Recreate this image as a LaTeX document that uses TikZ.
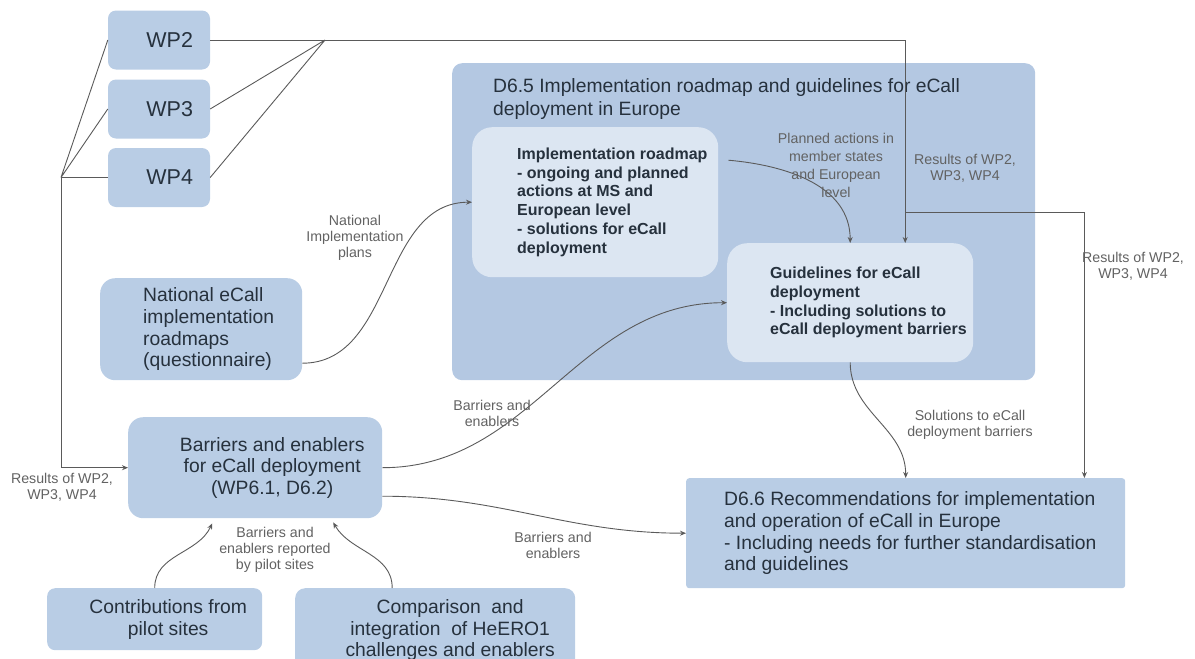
\documentclass[tikz,border=0pt]{standalone}
\usepackage{fontspec}
\setmainfont{Liberation Sans}
\usetikzlibrary{arrows.meta,positioning}
\definecolor{boxblue}{HTML}{B9CDE5}
\definecolor{deliverblue}{HTML}{B4C8E2}
\definecolor{innerblue}{HTML}{DCE6F2}
\definecolor{inktext}{HTML}{26313D}
\definecolor{linegrey}{HTML}{5A5A5A}
\definecolor{labelgrey}{HTML}{626262}
\tikzset{
	panel/.style={fill=boxblue,rounded corners=15pt,inner sep=0pt,anchor=north west},
	wpbox/.style={fill=boxblue,rounded corners=8pt,minimum height=59pt,text width=68pt,inner xsep=17pt,align=right,text=inktext,font=\fontsize{21.5}{24}\selectfont},
	boxtext/.style={text=inktext,font=\fontsize{19.3}{21.7}\selectfont,inner sep=0pt},
	innertext/.style={text=inktext,font=\fontsize{16}{18.7}\selectfont\bfseries,inner sep=0pt,align=left},
	flowlabel/.style={text=labelgrey,font=\fontsize{14.2}{16}\selectfont,align=center,inner sep=0pt},
	flowline/.style={draw=linegrey,line width=0.9pt},
	flowarrow/.style={flowline,-{Stealth[length=6pt,width=5pt]}}
}
\begin{document}
\begin{tikzpicture}[x=1pt,y=-1pt]
	\useasboundingbox (0,0) rectangle (1195,659);
	\foreach \n/\y in {2/40,3/109,4/177.5}
	{\node[wpbox] (wp\n) at (159,\y) {WP\n};}
	\node[panel,fill=deliverblue,rounded corners=10pt,minimum width=583pt,minimum height=317pt] (d65) at (452,63) {};
	\node[boxtext,anchor=north west,align=left,font=\fontsize{19.3}{23}\selectfont] (d65title) at (493,78) {D6.5 Implementation roadmap and guidelines for eCall\\deployment in Europe};
	\node[panel,fill=innerblue,rounded corners=20pt,minimum width=246pt,minimum height=150pt] (roadmap) at (472,127) {};
	\node[innertext,right=45pt of roadmap.west] (roadmaptext) {Implementation roadmap\\- ongoing and planned\\actions at MS and\\European level\\- solutions for eCall\\deployment};
	\node[panel,fill=innerblue,rounded corners=20pt,minimum width=246pt,minimum height=119pt] (guidelines) at (727,243) {};
	\node[innertext,right=43pt of guidelines.west] (guidelinestext) {Guidelines for eCall\\deployment\\- Including solutions to\\eCall deployment barriers};
	\node[panel,minimum width=202pt,minimum height=102pt] (national) at (100,278) {};
	\node[boxtext,align=left,right=43pt of national.west] (nationaltext) {National eCall\\implementation\\roadmaps\\(questionnaire)};
	\node[panel,minimum width=254pt,minimum height=101pt] (barriers) at (128,417) {};
	\node[boxtext,align=center] (barrierstext) at ([xshift=17pt]barriers.center) {Barriers and enablers\\for eCall deployment\\(WP6.1, D6.2)};
	\node[panel,rounded corners=3pt,minimum width=439pt,minimum height=110pt] (d66) at (686,478) {};
	\node[boxtext,align=left,right=38pt of d66.west] (d66text) {D6.6 Recommendations for implementation\\and operation of eCall in Europe\\- Including needs for further standardisation\\and guidelines};
	\node[panel,rounded corners=8pt,minimum width=215pt,minimum height=62pt] (contributions) at (47,588) {};
	\node[boxtext,align=center] (contributionstext) at ([xshift=13.5pt]contributions.center) {Contributions from\\pilot sites};
	\node[panel,rounded corners=10pt,minimum width=280pt,minimum height=84pt] (comparison) at (295,588) {};
	\node[boxtext,align=center] (comparisontext) at ([xshift=15pt]comparison.center) {Comparison\ \ and\\integration\ \ of HeERO1\\challenges and enablers};
	\coordinate (wpjoin) at (61,177.5);
	\coordinate (wpmerge) at (325,40);
	\coordinate (resbranch) at (905,212);
	\draw[flowline] (wp2.west) -- (wpjoin) (wp3.west) -- (wpjoin) (wp4.west) -- (wpjoin);
	\draw[flowline] (wp3.east) -- (wpmerge) (wp4.east) -- (wpmerge);
	\draw[flowarrow] (wpjoin) |- (barriers.west);
	\draw[flowarrow] (wp2.east) -| ([xshift=55pt]guidelines.north);
	\draw[flowarrow] (resbranch) -| ([xshift=-41pt]d66.north east);
	\draw[flowarrow] ([yshift=-34pt]national.east) to[out=0,in=180] (roadmap.west);
	\draw[flowarrow] ([xshift=10pt,yshift=42pt]roadmap.east) to[out=-5,in=90] (guidelines.north);
	\draw[flowarrow] (barriers.east) to[out=0,in=180] (guidelines.west);
	\draw[flowarrow] ([yshift=-28.5pt]barriers.east) to[out=0,in=180] (d66.west);
	\draw[flowarrow] (guidelines.south) to[out=-90,in=90] (d66.north);
	\draw[flowarrow] (contributions.north) to[out=90,in=-115] ([xshift=-43pt,yshift=-5pt]barriers.south);
	\draw[flowarrow] ([xshift=-43pt]comparison.north) to[out=90,in=-60] ([xshift=78pt,yshift=-4pt]barriers.south);
	\node[flowlabel] (planslabel) at (355,238) {National\\Implementation\\plans};
	\node[flowlabel,font=\fontsize{14.2}{18}\selectfont] (actionslabel) at (836,165) {Planned actions in\\member states\\and European\\level};
	\node[flowlabel] (innerwplabel) at (965,168) {Results of WP2,\\WP3, WP4};
	\node[flowlabel] (outerwplabel) at (1133,266) {Results of WP2,\\WP3, WP4};
	\node[flowlabel] (solutionslabel) at (970,425) {Solutions to eCall\\deployment barriers};
	\node[flowlabel] (upperlabel) at (492,413) {Barriers and\\enablers};
	\node[flowlabel] (lowerlabel) at (553,545) {Barriers and\\enablers};
	\node[flowlabel] (pilotlabel) at (275,550) {Barriers and\\enablers reported\\by pilot sites};
	\node[flowlabel] (leftwplabel) at (62,487) {Results of WP2,\\WP3, WP4};
\end{tikzpicture}
\end{document}
